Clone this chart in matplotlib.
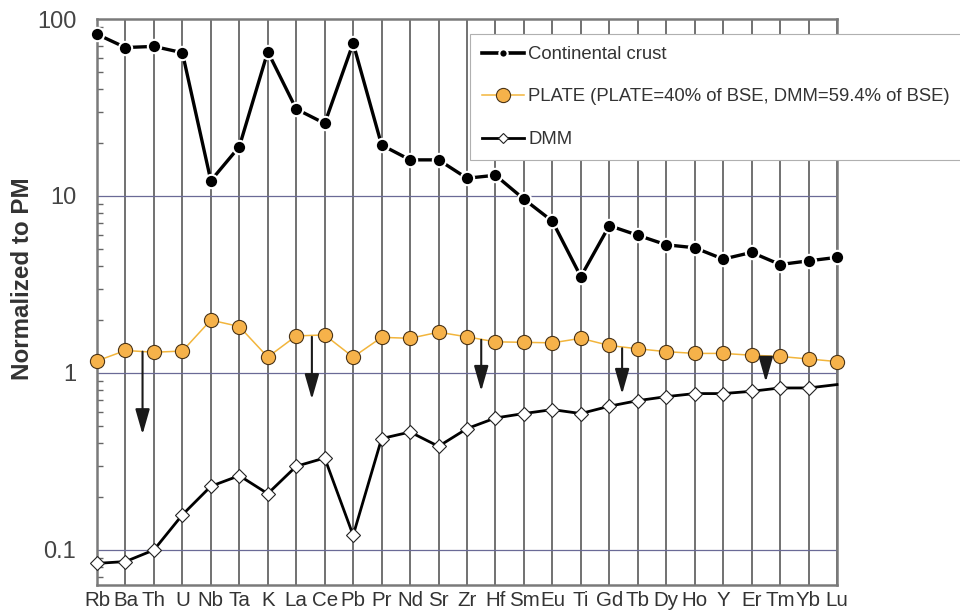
import numpy as np
import matplotlib
matplotlib.use("Agg")
import matplotlib.pyplot as plt
from matplotlib.ticker import FixedLocator, FixedFormatter, LogLocator, NullFormatter

plt.rcParams["font.family"] = ["Liberation Sans", "DejaVu Sans"]

elements = ["Rb", "Ba", "Th", "U", "Nb", "Ta", "K", "La", "Ce", "Pb", "Pr", "Nd", "Sr",
            "Zr", "Hf", "Sm", "Eu", "Ti", "Gd", "Tb", "Dy", "Ho", "Y", "Er", "Tm", "Yb", "Lu"]

crust = [82, 69, 70, 64.5, 12.2, 19.0, 65.4, 31.0, 25.7, 73, 19.4, 16.0, 16.0,
         12.6, 13.1, 9.6, 7.2, 3.5, 6.8, 6.0, 5.3, 5.1, 4.4, 4.8, 4.1, 4.3, 4.5]

plate = [1.17, 1.34, 1.31, 1.33, 1.99, 1.83, 1.23, 1.62, 1.64, 1.23, 1.59, 1.57, 1.70,
         1.60, 1.50, 1.49, 1.48, 1.57, 1.43, 1.37, 1.32, 1.29, 1.29, 1.26, 1.24, 1.20, 1.16]

dmm = [0.084, 0.086, 0.100, 0.158, 0.229, 0.263, 0.208, 0.297, 0.331, 0.121, 0.426, 0.464, 0.385,
       0.485, 0.557, 0.590, 0.621, 0.590, 0.649, 0.698, 0.735, 0.765, 0.765, 0.788, 0.823, 0.823, 0.86]

# depletion arrows (position between elements, start value, end value)
arrow_x = [1.6, 7.55, 13.5, 18.45, 23.5]
arrow_top = [1.32, 1.60, 1.54, 1.38, 1.215]
arrow_bottom = [0.45, 0.71, 0.79, 0.76, 0.89]

labels = ["Continental crust",
          "PLATE (PLATE=40% of BSE, DMM=59.4% of BSE)",
          "DMM"]

x = np.arange(len(elements))

fig = plt.figure(figsize=(9.6, 6.12), dpi=100)
ax = fig.add_axes([97 / 960, 27 / 612, 740 / 960, 566 / 612])

ax.set_yscale("log")
ax.set_xlim(0, len(elements) - 1)
ax.set_ylim(0.0634, 100)

# grid
for xi in x:
    ax.axvline(xi, color="#4a4a4a", lw=1.1, zorder=1)
for yv in [0.1, 1, 10]:
    ax.axhline(yv, color="#6a6a96", lw=0.9, zorder=1)

l1, = ax.plot(x, crust, color="black", lw=2.4, marker="o", ms=9.6,
              mfc="black", mec="white", mew=1.5, zorder=5, clip_on=False)
l2, = ax.plot(x, plate, color="#F2B53C", lw=1.1, marker="o", ms=10.2,
              mfc="#F6B24A", mec="#4a3418", mew=0.8, zorder=4, clip_on=False)
l3, = ax.plot(x, dmm, color="black", lw=2.0, marker="D", ms=7.0,
              mfc="white", mec="#222222", mew=0.8, zorder=4, clip_on=False,
              markevery=list(range(len(elements) - 1)))

for xa, ya, yb in zip(arrow_x, arrow_top, arrow_bottom):
    ax.annotate("", xy=(xa, yb), xytext=(xa, ya),
                arrowprops=dict(arrowstyle="-|>,head_length=0.7,head_width=0.2",
                                color="#1a1a1a", lw=1.5, shrinkA=0, shrinkB=0,
                                mutation_scale=22),
                zorder=6)

ax.set_xticks(x)
ax.set_xticklabels(elements, fontsize=14.8, color="#333333")
ax.tick_params(axis="x", length=0, pad=4)

ax.yaxis.set_major_locator(FixedLocator([0.1, 1, 10, 100]))
ax.yaxis.set_major_formatter(FixedFormatter(["0.1", "1", "10", "100"]))
ax.yaxis.set_minor_locator(LogLocator(base=10, subs=np.arange(2, 10)))
ax.yaxis.set_minor_formatter(NullFormatter())
ax.tick_params(axis="y", which="major", length=0, pad=15, labelsize=17, labelcolor="#444444")
ax.tick_params(axis="y", which="minor", direction="in", length=4, width=1, color="#666666")

for s in ax.spines.values():
    s.set_color("#7a7a7a")
    s.set_linewidth(1.8)
    s.set_zorder(3)

fig.text(23 / 960, 0.545, "Normalized to PM", rotation=90, ha="center", va="center",
         fontsize=17.4, fontweight="bold", color="#333333")

leg = fig.legend([l1, l2, l3], labels, loc="upper left",
                 bbox_to_anchor=(470 / 960, 1 - 34 / 612), bbox_transform=fig.transFigure,
                 borderaxespad=0, fontsize=13.3, frameon=True, fancybox=False,
                 edgecolor="#b0b0b0", framealpha=1, borderpad=0.65, labelspacing=1.38,
                 handlelength=2.3, handletextpad=0.2)
leg.get_frame().set_linewidth(0.8)
for t in leg.get_texts():
    t.set_color("#333333")
hs = leg.legend_handles
hs[0].set_markersize(6)
hs[0].set_linewidth(2.6)
hs[2].set_markersize(5.5)

fig.savefig("out.png", dpi=100)
